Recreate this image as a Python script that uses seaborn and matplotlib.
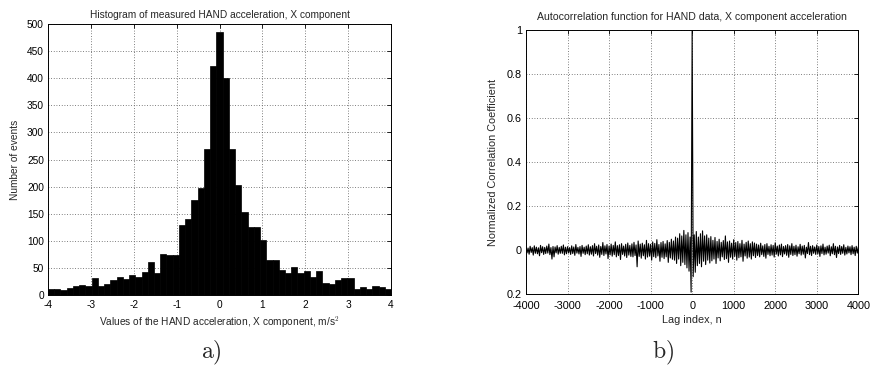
import numpy as np
import pandas as pd
import matplotlib
matplotlib.use("Agg")
import matplotlib.pyplot as plt
import seaborn as sns

# ---------------- data ----------------
hist_counts = [10, 10, 9, 13, 17, 18, 17, 30, 16, 19,
               27, 33, 29, 37, 32, 42, 60, 40, 76, 73,
               73, 128, 140, 175, 197, 269, 422, 485, 400, 269,
               202, 152, 126, 126, 102, 65, 65, 45, 41, 51,
               41, 43, 32, 43, 21, 19, 27, 30, 30, 11,
               14, 10, 16, 14, 10]
hist_range = (-4, 4)

acf_upper = [0.015, 0.010, 0.018, 0.012, 0.020, 0.014, 0.011, 0.022, 0.016, 0.013,
             0.019, 0.028, 0.012, 0.017, 0.015, 0.021, 0.013, 0.018, 0.024, 0.014,
             0.016, 0.012, 0.020, 0.015, 0.026, 0.013, 0.017, 0.022, 0.014, 0.019,
             0.025,
             0.016, 0.021, 0.030, 0.018, 0.024, 0.017, 0.035, 0.020, 0.026, 0.019,
             0.028, 0.022, 0.038, 0.021, 0.025, 0.030, 0.019, 0.027, 0.033, 0.022,
             0.029, 0.036, 0.024, 0.042, 0.028, 0.032, 0.025, 0.045, 0.030, 0.027,
             0.038, 0.031, 0.048, 0.026, 0.035, 0.040, 0.029, 0.044, 0.036, 0.050,
             0.042, 0.060, 0.055, 0.075, 0.065, 0.090, 0.070, 0.080, 0.060,
             1.000,
             0.070, 0.085, 0.060, 0.075, 0.088, 0.065, 0.070, 0.055, 0.062,
             0.045, 0.058, 0.040, 0.050, 0.036, 0.044, 0.065, 0.038, 0.042, 0.032,
             0.048, 0.035, 0.040, 0.030, 0.045, 0.028, 0.036, 0.042, 0.030, 0.038,
             0.033,
             0.028, 0.024, 0.032, 0.020, 0.026, 0.030, 0.018, 0.025, 0.022, 0.034,
             0.019, 0.024, 0.028, 0.017, 0.021, 0.026, 0.020, 0.030, 0.018, 0.023,
             0.016, 0.027, 0.019, 0.022, 0.014, 0.035, 0.018, 0.021, 0.015, 0.024,
             0.017, 0.020, 0.028, 0.014, 0.019, 0.023, 0.016, 0.030, 0.018, 0.015,
             0.022, 0.017, 0.025, 0.013, 0.019, 0.016, 0.021, 0.014, 0.018, 0.015]

acf_lower = [-0.012, -0.018, -0.010, -0.022, -0.014, -0.016, -0.025, -0.011, -0.019, -0.015,
             -0.013, -0.020, -0.040, -0.030, -0.012, -0.018, -0.014, -0.014, -0.021, -0.016,
             -0.012, -0.019, -0.015, -0.023, -0.013, -0.017, -0.028, -0.014, -0.020, -0.016,
             -0.022,
             -0.018, -0.026, -0.015, -0.022, -0.032, -0.019, -0.024, -0.017, -0.038, -0.021,
             -0.027, -0.020, -0.030, -0.024, -0.042, -0.019, -0.026, -0.033, -0.022, -0.028,
             -0.030, -0.024, -0.075, -0.028, -0.036, -0.025, -0.040, -0.031, -0.027, -0.045,
             -0.029, -0.034, -0.026, -0.050, -0.032, -0.038, -0.030, -0.055, -0.035, -0.041,
             -0.045, -0.060, -0.040, -0.070, -0.055, -0.065, -0.080, -0.095, -0.190,
             -0.120, -0.100, -0.070, -0.060, -0.075, -0.050, -0.065, -0.045, -0.058, -0.048,
             -0.040, -0.060, -0.035, -0.048, -0.030, -0.042, -0.038, -0.055, -0.032, -0.040,
             -0.028, -0.045, -0.034, -0.030, -0.050, -0.026, -0.036, -0.031, -0.040, -0.025,
             -0.033,
             -0.024, -0.030, -0.020, -0.028, -0.036, -0.019, -0.025, -0.022, -0.031, -0.018,
             -0.026, -0.021, -0.029, -0.017, -0.023, -0.032, -0.019, -0.024, -0.020, -0.027,
             -0.016, -0.022, -0.018, -0.035, -0.015, -0.020, -0.024, -0.014, -0.019, -0.017,
             -0.028, -0.015, -0.021, -0.018, -0.013, -0.025, -0.016, -0.020, -0.033, -0.015,
             -0.019, -0.014, -0.022, -0.017, -0.012, -0.020, -0.016, -0.024, -0.013, -0.018]
acf_lag_start = -4000
acf_lag_step = 50

hist_xticks = [-4, -3, -2, -1, 0, 1, 2, 3, 4]
hist_yticks = [0, 50, 100, 150, 200, 250, 300, 350, 400, 450, 500]
acf_xticks = [-4000, -3000, -2000, -1000, 0, 1000, 2000, 3000, 4000]
acf_yticks = [-0.2, 0.0, 0.2, 0.4, 0.6, 0.8, 1.0]
acf_ytick_labels = ["0.2", "0", "0.2", "0.4", "0.6", "0.8", "1"]

# ---------------- style ----------------
sns.set_theme(style="white")
plt.rcParams["font.family"] = ["Liberation Sans", "DejaVu Sans"]
plt.rcParams["axes.unicode_minus"] = False
plt.rcParams["mathtext.fontset"] = "cm"

W, H = 871, 374
fig = plt.figure(figsize=(W / 100, H / 100), dpi=100)
fig.patch.set_facecolor("white")

ax1 = fig.add_axes([48 / W, 1 - 294.7 / H, 343 / W, 270.4 / H])
ax2 = fig.add_axes([526 / W, 1 - 294.3 / H, 332.3 / W, 264.3 / H])


def style_axes(ax, fs, xpad=3.5):
    for sp in ax.spines.values():
        sp.set_visible(True)
        sp.set_color("black")
        sp.set_linewidth(0.7)
    ax.tick_params(direction="in", top=True, right=True, length=3, width=0.6,
                   labelsize=fs, colors="black", pad=3)
    ax.tick_params(axis="x", pad=xpad)
    ax.grid(True, linestyle=(0, (1, 2.2)), color="#555555", linewidth=0.6)
    ax.set_axisbelow(True)
    ax.set_facecolor("white")


# ---------------- histogram ----------------
edges = np.linspace(hist_range[0], hist_range[1], len(hist_counts) + 1)
centers = (edges[:-1] + edges[1:]) / 2
hist_df = pd.DataFrame({"value": centers, "count": hist_counts})
sns.histplot(data=hist_df, x="value", weights="count", bins=len(hist_counts),
             binrange=hist_range, color="black",
             alpha=1, edgecolor="black", linewidth=0.5, ax=ax1)
ax1.set_xlim(-4, 4)
ax1.set_ylim(0, 500)
ax1.set_xticks(hist_xticks)
ax1.set_yticks(hist_yticks)
ax1.set_xticklabels([str(t) for t in hist_xticks])
ax1.set_yticklabels([str(t) for t in hist_yticks])
style_axes(ax1, 7.3)
ax1.set_title("Histogram of measured HAND acceleration, X component", fontsize=7.3, pad=4.5)
ax1.set_xlabel(r"Values of the HAND acceleration, X component, m/s$^{\mathsf{2}}$", fontsize=7.3, labelpad=3.5)
ax1.set_ylabel("Number of events", fontsize=7.3, labelpad=5)

# ---------------- autocorrelation ----------------
lags_up = acf_lag_start + acf_lag_step * np.arange(len(acf_upper))
lags_lo = lags_up + acf_lag_step / 2
acf_df = pd.DataFrame({"lag": np.concatenate([lags_up, lags_lo]),
                       "r": np.concatenate([acf_upper, acf_lower])}).sort_values("lag")
sns.lineplot(data=acf_df, x="lag", y="r", color="black", linewidth=0.8,
             estimator=None, sort=True, ax=ax2)
ax2.set_xlim(-4000, 4000)
ax2.set_ylim(-0.2, 1.0)
ax2.set_xticks(acf_xticks)
ax2.set_xticklabels([str(t) for t in acf_xticks])
ax2.set_yticks(acf_yticks)
ax2.set_yticklabels(acf_ytick_labels)
style_axes(ax2, 7.8, xpad=4.5)
ax2.set_title("Autocorrelation function for HAND data, X component acceleration", fontsize=7.6, pad=7.5)
ax2.set_xlabel("Lag index, n", fontsize=7.8, labelpad=3)
ax2.set_ylabel("Normalized Correlation Coefficient", fontsize=7.8, labelpad=6)

# ---------------- panel labels ----------------
fig.text(211 / W, 1 - 353 / H, r"$\mathrm{a)}$", fontsize=17, ha="center", va="center")
fig.text(663 / W, 1 - 353 / H, r"$\mathrm{b)}$", fontsize=17, ha="center", va="center")

fig.savefig("out.png", dpi=100, facecolor="white")
